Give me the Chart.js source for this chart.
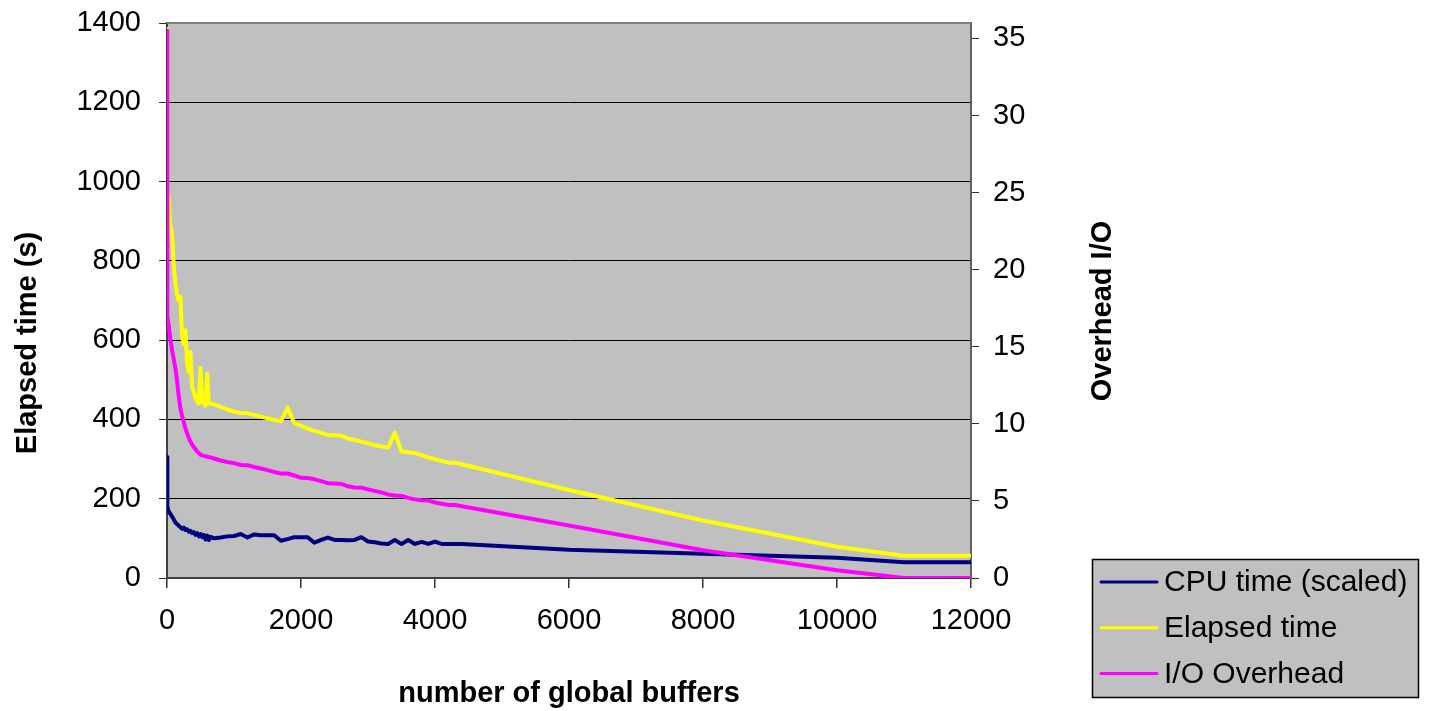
<!DOCTYPE html>
<html><head><meta charset="utf-8">
<script src="https://cdn.jsdelivr.net/npm/chart.js@4.4.1/dist/chart.umd.min.js"></script>
<style>html,body{margin:0;padding:0;background:#fff;}#wrap{width:1431px;height:711px;}</style>
</head><body><div id="wrap"><canvas id="c" width="1431" height="711"></canvas></div>
<script>
// ---- data ----
const BUFFERS = [0, 5, 25, 50, 75, 100, 125, 150, 175, 200, 225, 250, 275, 300, 325, 350, 375, 400, 425, 450, 475, 500, 525, 550, 575, 600, 625, 650,
  700, 800, 900, 1000, 1100, 1200, 1300, 1400, 1500, 1600, 1700, 1800, 1900, 2000, 2100, 2200, 2300, 2400, 2500, 2600, 2700, 2800, 2900, 3000, 3100, 3200, 3300, 3400, 3500, 3600, 3700, 3800, 3900, 4000, 4100, 4200, 4300, 4400,
  6000, 8000, 10000, 11000, 12000];
const CPU_TIME = [305, 180, 168, 162, 155, 148, 140, 136, 132, 128, 124, 127, 121, 123, 117, 119, 113, 116, 109, 113, 105, 111, 103, 109, 97, 107, 96, 104,
  100, 102, 105, 106, 111, 102, 110, 108, 108, 108, 94, 98, 103, 103, 103, 89, 96, 102, 96, 96, 95, 96, 103, 92, 90, 87, 86, 96, 86, 96, 86, 91, 86, 92, 86, 86, 86, 86,
  71, 61, 51, 40, 40];
const ELAPSED_TIME = [1385, 975, 960, 890, 865, 790, 745, 715, 700, 710, 610, 590, 625, 545, 520, 570, 480, 470, 455, 445, 440, 530, 445, 440, 435, 515, 440, 440,
  438, 432, 425, 420, 416, 416, 411, 407, 403, 399, 395, 430, 391, 384, 377, 371, 366, 361, 360, 359, 352, 348, 344, 340, 335, 332, 329, 367, 319, 317, 315, 310, 304, 300, 295, 291, 291, 287,
  222, 145, 79, 56, 56];
const IO_OVERHEAD = [35.5, 17.0, 16.4, 15.5, 14.8, 14.2, 13.6, 12.8, 11.8, 11.0, 10.5, 10.1, 9.7, 9.4, 9.1, 8.85, 8.65, 8.5, 8.35, 8.2, 8.1, 8.0, 7.95, 7.92, 7.9, 7.87, 7.85, 7.82,
  7.75, 7.62, 7.52, 7.45, 7.33, 7.32, 7.2, 7.1, 7.0, 6.88, 6.78, 6.78, 6.65, 6.5, 6.49, 6.4, 6.28, 6.15, 6.13, 6.1, 5.95, 5.87, 5.86, 5.75, 5.65, 5.55, 5.42, 5.35, 5.32, 5.2, 5.1, 5.05, 5.02, 4.9, 4.82, 4.74, 4.74, 4.65,
  3.4, 1.8, 0.5, 0, 0];
const SERIES_NAMES = ['CPU time (scaled)', 'Elapsed time', 'I/O Overhead'];
const X_TICKS = [0, 2000, 4000, 6000, 8000, 10000, 12000];
const LEFT_TICKS = [0, 200, 400, 600, 800, 1000, 1200, 1400];
const RIGHT_TICKS = [0, 5, 10, 15, 20, 25, 30, 35];
const X_TITLE = 'number of global buffers';
const LEFT_TITLE = 'Elapsed time (s)';
const RIGHT_TITLE = 'Overhead I/O';

// ---- build ----
const pts = (ys) => BUFFERS.map((x, i) => ({x: x, y: ys[i]}));
const FONT = '"Liberation Sans", Arial, sans-serif';
const plain = (v) => String(v);

const plotBg = {
  id: 'plotBg',
  beforeDraw(chart) {
    const a = chart.chartArea, ctx = chart.ctx;
    ctx.save(); ctx.fillStyle = '#C0C0C0';
    ctx.fillRect(a.left, a.top, a.right - a.left, a.bottom - a.top);
    ctx.restore();
  },
  beforeDatasetsDraw(chart) {
    const a = chart.chartArea, ctx = chart.ctx;
    ctx.save(); ctx.strokeStyle = '#808080'; ctx.lineWidth = 2;
    ctx.beginPath(); ctx.moveTo(a.left, a.top); ctx.lineTo(a.right, a.top); ctx.stroke();
    ctx.restore();
  }
};
const extras = {
  id: 'extras',
  afterDraw(chart) {
    const ctx = chart.ctx;
    ctx.save();
    ctx.fillStyle = '#000';
    ctx.font = 'bold 29px ' + FONT;
    ctx.textAlign = 'center'; ctx.textBaseline = 'middle';
    ctx.save(); ctx.translate(28, 343); ctx.rotate(-Math.PI / 2); ctx.fillText(LEFT_TITLE, 0, 0); ctx.restore();
    ctx.save(); ctx.translate(1103, 311); ctx.rotate(-Math.PI / 2); ctx.fillText(RIGHT_TITLE, 0, 0); ctx.restore();
    // legend
    ctx.fillStyle = '#C0C0C0'; ctx.fillRect(1092, 559, 326, 138);
    ctx.strokeStyle = '#000'; ctx.lineWidth = 1.5; ctx.strokeRect(1092.5, 559.5, 326, 138);
    ctx.font = '30px ' + FONT; ctx.textAlign = 'left';
    chart.data.datasets.forEach((ds, i) => {
      const y = 582 + i * 45.7;
      ctx.strokeStyle = ds.borderColor; ctx.lineWidth = 3; ctx.lineCap = 'round';
      ctx.beginPath(); ctx.moveTo(1101, y); ctx.lineTo(1157, y); ctx.stroke();
      ctx.fillStyle = '#000'; ctx.fillText(ds.label, 1164, y + 1);
    });
    ctx.restore();
  }
};

new Chart(document.getElementById('c'), {
  type: 'line',
  data: {
    datasets: [
      {label: SERIES_NAMES[0], data: pts(CPU_TIME), borderColor: '#000080', yAxisID: 'y', order: 2},
      {label: SERIES_NAMES[1], data: pts(ELAPSED_TIME), borderColor: '#FFFF00', yAxisID: 'y', order: 1},
      {label: SERIES_NAMES[2], data: pts(IO_OVERHEAD), borderColor: '#FF00FF', yAxisID: 'y1', order: 0}
    ]
  },
  options: {
    responsive: false, animation: false, devicePixelRatio: 1,
    layout: {padding: {top: 23, left: 0, right: 0, bottom: 0}},
    elements: {
      line: {borderWidth: 4, tension: 0, borderJoinStyle: 'round', borderCapStyle: 'round', fill: false},
      point: {radius: 0, hoverRadius: 0}
    },
    plugins: {legend: {display: false}, tooltip: {enabled: false}},
    scales: {
      x: {
        type: 'linear', min: 0, max: 12000,
        afterBuildTicks: (s) => { s.ticks = X_TICKS.map(v => ({value: v})); },
        afterFit: (s) => { s.height = 133; s.paddingLeft = 0; s.paddingRight = 0; },
        grid: {drawOnChartArea: false, drawTicks: true, tickLength: 10, tickColor: '#303030', lineWidth: 1.5},
        border: {display: true, color: '#404040', width: 2},
        ticks: {color: '#000', font: {family: FONT, size: 29}, padding: 16, maxRotation: 0, autoSkip: false, callback: plain},
        title: {display: true, text: X_TITLE, color: '#000', font: {family: FONT, size: 29, weight: 'bold'}, padding: {top: 0, bottom: 0}}
      },
      y: {
        position: 'left', min: 0, max: 1400,
        afterBuildTicks: (s) => { s.ticks = LEFT_TICKS.map(v => ({value: v})); },
        afterFit: (s) => { s.width = 167; s.paddingTop = 0; s.paddingBottom = 0; },
        grid: {color: '#000', lineWidth: 1, drawTicks: true, tickLength: 8, tickColor: '#303030'},
        border: {display: true, color: '#404040', width: 2},
        ticks: {color: '#000', font: {family: FONT, size: 29}, padding: 18, autoSkip: false, callback: plain}
      },
      y1: {
        position: 'right', min: 0, max: 36,
        afterBuildTicks: (s) => { s.ticks = RIGHT_TICKS.map(v => ({value: v})); },
        afterFit: (s) => { s.width = 460; s.paddingTop = 0; s.paddingBottom = 0; },
        grid: {drawOnChartArea: false, drawTicks: true, tickLength: 8, tickColor: '#303030'},
        border: {display: true, color: '#606060', width: 2},
        ticks: {color: '#000', font: {family: FONT, size: 29}, padding: 14, autoSkip: false, callback: plain}
      }
    }
  },
  plugins: [plotBg, extras]
});
</script></body></html>
